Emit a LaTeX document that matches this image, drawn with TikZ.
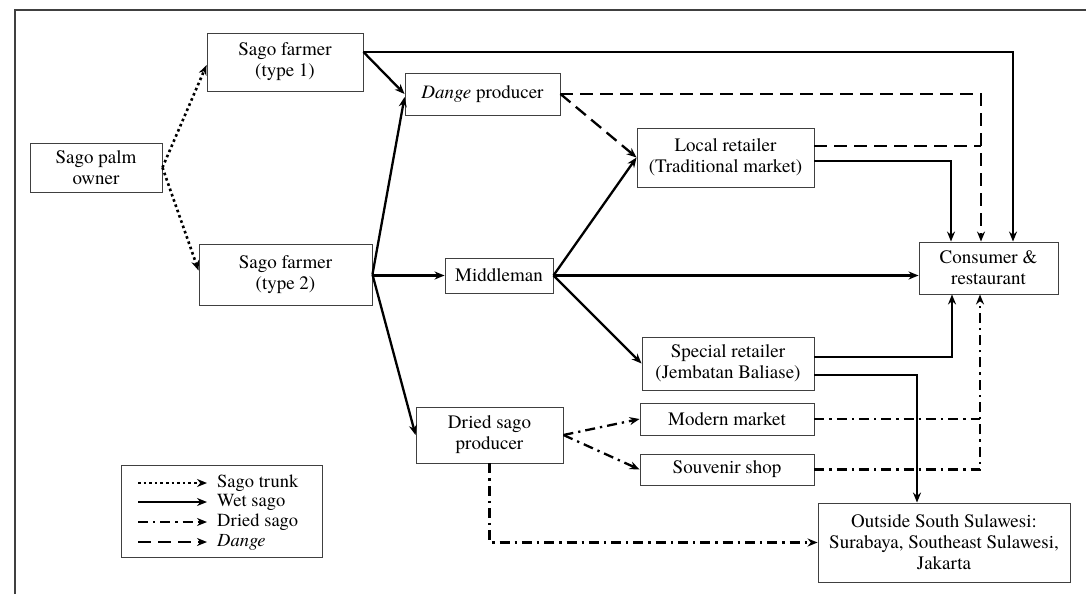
\documentclass[tikz,border=0pt]{standalone}
\usepackage{fontspec}
\setmainfont{texgyretermes}[Extension=.otf, UprightFont=*-regular, ItalicFont=*-italic, BoldFont=*-bold, BoldItalicFont=*-bolditalic]
\usetikzlibrary{arrows.meta}

\begin{document}
\begin{tikzpicture}[x=1pt, y=-1pt,
	box/.style={draw=black!75, line width=0.9pt, align=center, inner sep=0pt, font=\rmfamily\fontsize{19}{21}\selectfont},
	legtext/.style={anchor=west, inner sep=0pt, font=\rmfamily\fontsize{18.5}{20}\selectfont},
	wet/.style={line width=2.3pt, -{Stealth[length=10pt,width=8pt]}},
	trunk/.style={line width=2.6pt, dash pattern=on 2.6pt off 3pt, -{Stealth[length=10pt,width=8pt]}},
	driedline/.style={line width=2.3pt, dash pattern=on 10pt off 5pt on 2.3pt off 5pt, -{Stealth[length=10pt,width=8pt]}},
	dangeline/.style={line width=2.3pt, dash pattern=on 13pt off 7pt, -{Stealth[length=10pt,width=8pt]}}]
			%%%%% START %%%%%
			\useasboundingbox (0,0) rectangle (1086,594);
			\draw[line width=1.5pt, color=black!75] (15,594) -- (15,10) -- (1086,10);
			
			\node[box, minimum width=132, minimum height=49] (owner) at (96,167.5) {Sago palm\\owner};
			\node[box, minimum width=156, minimum height=58] (farmerA) at (285,62) {Sago farmer\\(type 1)};
			\node[box, minimum width=173, minimum height=61] (farmerB) at (285.5,274.5) {Sago farmer\\(type 2)};
			
			\node[box, minimum width=155, minimum height=42] (dange) at (482.5,94) {\textit{Dange} producer};
			\node[box, minimum width=108, minimum height=35] (middle) at (499,275.5) {Middleman};
			\node[box, minimum width=147, minimum height=56] (drysago) at (489.5,435) {Dried sago\\producer};
			
			\node[box, minimum width=177, minimum height=59] (local) at (725.5,157.5) {Local retailer\\(Traditional market)};
			\node[box, minimum width=172, minimum height=53] (special) at (728,363.5) {Special retailer\\(Jembatan Baliase)};
			\node[box, minimum width=174, minimum height=32] (modern) at (727,419) {Modern market};
			\node[box, minimum width=174, minimum height=31] (souvenir) at (727,469.5) {Souvenir shop};
			
			\node[box, minimum width=139, minimum height=52] (consumer) at (988.5,268) {Consumer \&\\restaurant};
			\node[box, minimum width=252, minimum height=79] (outside) at (944,542.5) {Outside South Sulawesi:\\Surabaya, Southeast Sulawesi,\\Jakarta};
			
			% sago trunk
			\draw[trunk] (owner.east) -- ([yshift=-3]farmerA.west);
			\draw[trunk] (owner.east) -- ([yshift=4]farmerB.west);
			
			% wet sago
			\draw[wet] ([yshift=10]farmerA.east) -- (dange.west);
			\draw[wet] ([yshift=10]farmerA.east) -| ([xshift=24.5]consumer.north);
			\draw[wet] (farmerB.east) -- ([yshift=-3]dange.west);
			\draw[wet] (farmerB.east |- middle.west) -- (middle.west);
			\draw[wet] (farmerB.east) -- (drysago.west);
			\draw[wet] (middle.east) -- (local.west);
			\draw[wet] (middle.east) -- (middle.east -| consumer.west);
			\draw[wet] (middle.east) -- (special.west);
			\draw[wet] ([yshift=-3.5]local.east) -| ([xshift=-37.5]consumer.north);
			\draw[wet] ([yshift=6.5]special.east) -| ([xshift=-36.5]consumer.south);
			\draw[wet] ([yshift=-11.5]special.east) -| ([xshift=-27]outside.north);
			
			% dange
			\coordinate (dangeIn) at ([xshift=-7.5]consumer.north);
			\coordinate (localOut) at ([yshift=11.5]local.east);
			\draw[dangeline] (dange.east) -- (local.west);
			\draw[dangeline] (dange.east) -| (dangeIn);
			\draw[dangeline, -] (localOut) -- (localOut -| dangeIn);
			
			% dried sago
			\coordinate (driedIn) at ([xshift=-8.5]consumer.south);
			\draw[driedline] (drysago.east) -- (modern.west);
			\draw[driedline] (drysago.east) -- (souvenir.west);
			\draw[driedline] (souvenir.east) -| (driedIn);
			\draw[driedline, -] (modern.east) -- (modern.east -| driedIn);
			\draw[driedline] (drysago.south) |- (outside.west);
			
			% legend
			\node[draw=black!75, line width=0.9pt, minimum width=201, minimum height=92, inner sep=0pt] (legend) at (221.5,511) {};
			\node[legtext] (keyTrunk) at (217,483) {Sago trunk};
			\node[legtext] (keyWet) at (217,502) {Wet sago};
			\node[legtext] (keyDried) at (217,522) {Dried sago};
			\node[legtext] (keyDange) at (217,542) {\textit{Dange}};
			\draw[trunk] ([xshift=-79]keyTrunk.west) -- ([xshift=-10]keyTrunk.west);
			\draw[wet] ([xshift=-79]keyWet.west) -- ([xshift=-10]keyWet.west);
			\draw[driedline] ([xshift=-79]keyDried.west) -- ([xshift=-10]keyDried.west);
			\draw[dangeline] ([xshift=-79]keyDange.west) -- ([xshift=-10]keyDange.west);
			
			%%%%% END %%%%%
\end{tikzpicture}
\end{document}
